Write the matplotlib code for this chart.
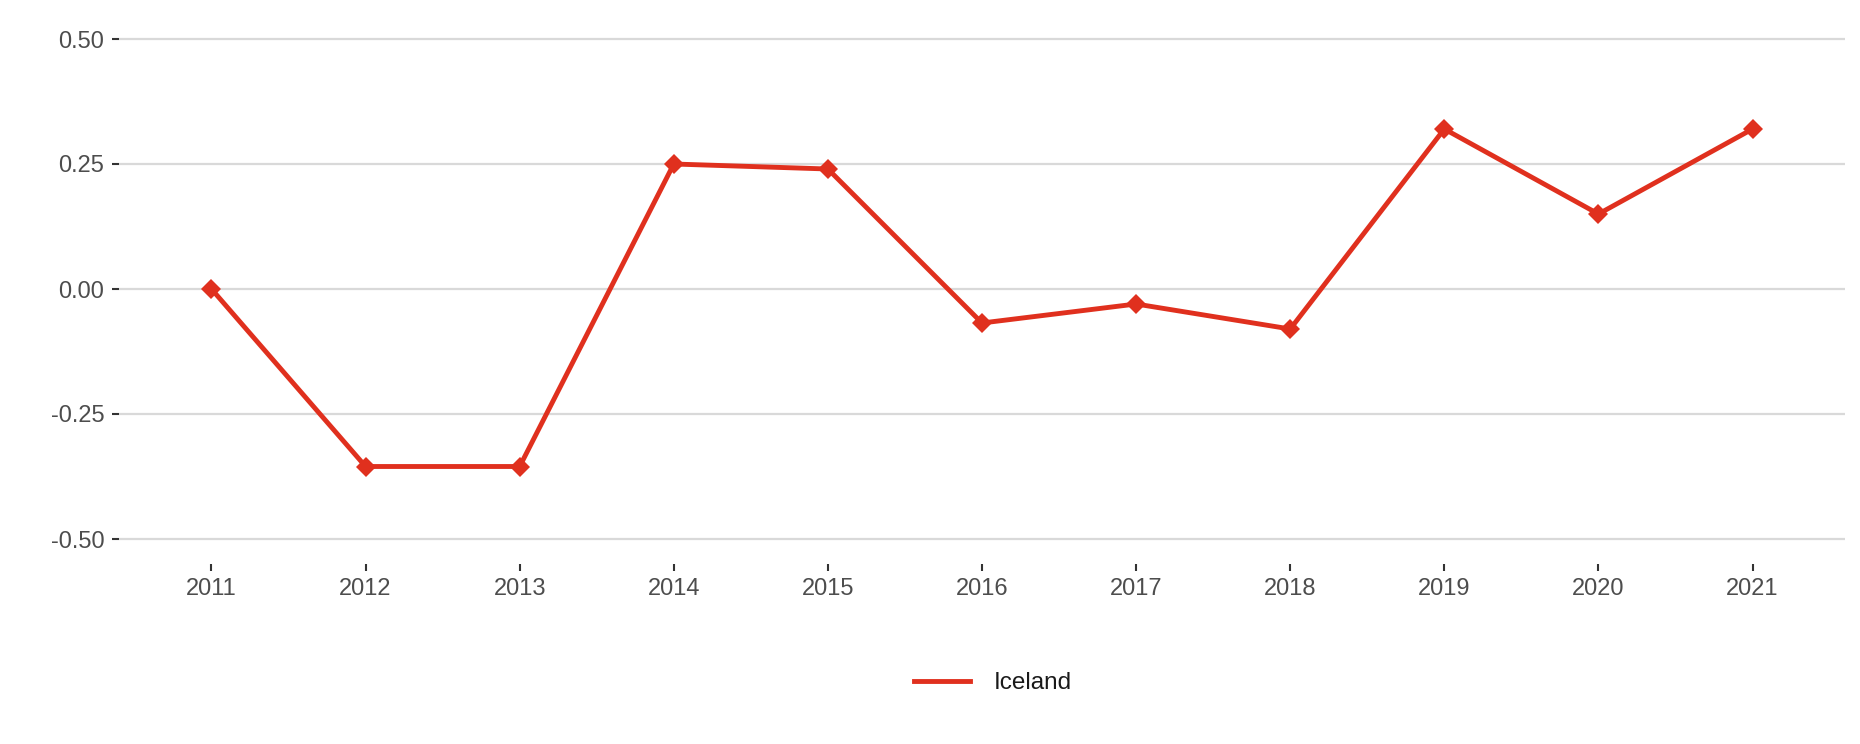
import matplotlib
matplotlib.use("Agg")
import matplotlib.pyplot as plt
from matplotlib.lines import Line2D

# Data
years = [2011, 2012, 2013, 2014, 2015, 2016, 2017, 2018, 2019, 2020, 2021]
iceland = [0.00, -0.355, -0.355, 0.25, 0.24, -0.068, -0.03, -0.08, 0.32, 0.15, 0.32]
y_ticks = [-0.50, -0.25, 0.00, 0.25, 0.50]
series_name = "Iceland"

RED = "#E0301E"
GRID = "#D9D9D9"
TICK_TXT = "#4D4D4D"

plt.rcParams["font.family"] = ["Liberation Sans", "DejaVu Sans"]

W, H = 1860, 744
fig = plt.figure(figsize=(W / 100, H / 100), dpi=100)
# axes box in pixel terms: x 119..1845, y 14..564 (from top)
ax = fig.add_axes([119 / W, 1 - 564 / H, (1845 - 119) / W, (564 - 14) / H])

ax.plot(years, iceland, color=RED, lw=3.5, marker="D", ms=10.5, mew=0,
        solid_joinstyle="miter", zorder=3)

ax.set_xlim(2010.4, 2021.6)
ax.set_ylim(-0.55, 0.55)
ax.set_xticks(years)
ax.set_xticklabels([str(y) for y in years])
ax.set_yticks(y_ticks)
ax.set_yticklabels(["%.2f" % v for v in y_ticks])

for s in ax.spines.values():
    s.set_visible(False)

ax.yaxis.grid(True, color=GRID, lw=1.6)
ax.xaxis.grid(False)
ax.set_axisbelow(True)

ax.tick_params(axis="both", length=5, width=1.5, color="#333333",
               labelsize=17, labelcolor=TICK_TXT, pad=5)
ax.tick_params(axis="y", pad=5.5)

# legend shows the line only, no marker
handle = Line2D([], [], color=RED, lw=3.5)
fig.legend(handles=[handle], labels=[series_name], loc="center",
           bbox_to_anchor=(993 / W, 1 - 683 / H), frameon=False,
           fontsize=17.5, handlelength=2.3, handletextpad=1.0,
           labelcolor="#1A1A1A")

fig.savefig("out.png", dpi=100, facecolor="white")
